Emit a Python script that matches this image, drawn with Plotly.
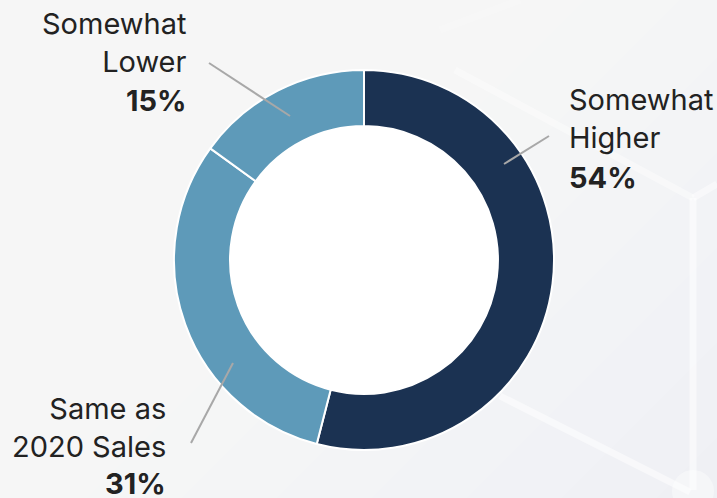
import plotly.graph_objects as go

W, H = 717, 498

categories = ["Somewhat Higher", "Same as 2020 Sales", "Somewhat Lower"]
values = [54, 31, 15]
label_text = ["Somewhat<br>Higher", "Same as<br>2020 Sales", "Somewhat<br>Lower"]
colors = ["#1b3252", "#5e9ab9", "#5e9ab9"]

def px(x):
    return x / W

def py(y):
    return 1 - y / H

cx, cy, R = 364, 260, 190

fig = go.Figure()
fig.add_trace(go.Pie(
    labels=categories,
    values=values,
    hole=0.705,
    sort=False,
    direction="clockwise",
    rotation=0,
    textinfo="none",
    hoverinfo="label+percent",
    marker=dict(colors=colors, line=dict(color="white", width=2)),
    showlegend=False,
    domain=dict(x=[px(cx - R), px(cx + R)], y=[py(cy + R), py(cy - R)]),
))

shapes = []
# diagonal background gradient (lighter towards top-left)
N = 12
for i in range(N):
    d = 1250 - i * 95
    path = f"M {px(0)} {py(0)} L {px(d)} {py(0)} L {px(0)} {py(d)} Z"
    shapes.append(dict(type="path", xref="paper", yref="paper", layer="below",
                       path=path, fillcolor="rgba(255,255,255,0.095)",
                       line=dict(width=0)))
# background hexagon lines
hex_lines = [
    ((455, 70), (693, 198), 0.4),
    ((693, 198), (717, 184), 0.45),
    ((693, 198), (693, 490), 0.5),
    ((500, 396), (690, 492), 0.5),
    ((440, 30), (520, 0), 0.2),
]
for (x0, y0), (x1, y1), op in hex_lines:
    shapes.append(dict(type="line", xref="paper", yref="paper", layer="below",
                       x0=px(x0), y0=py(y0), x1=px(x1), y1=py(y1),
                       line=dict(color=f"rgba(255,255,255,{op})", width=7)))
shapes.append(dict(type="circle", xref="paper", yref="paper", layer="below",
                   x0=px(672), y0=py(512), x1=px(714), y1=py(470),
                   fillcolor="rgba(255,255,255,0.4)", line=dict(width=0)))
# white hole
ri = 135
shapes.append(dict(type="circle", xref="paper", yref="paper", layer="below",
                   x0=px(cx - ri), y0=py(cy + ri), x1=px(cx + ri), y1=py(cy - ri),
                   fillcolor="white", line=dict(width=0)))

# leader lines
leaders = [
    ((549, 136), (504, 164)),
    ((191, 443), (233, 363)),
    ((209, 63), (290, 116)),
]
for (x0, y0), (x1, y1) in leaders:
    shapes.append(dict(type="line", xref="paper", yref="paper",
                       x0=px(x0), y0=py(y0), x1=px(x1), y1=py(y1),
                       line=dict(color="#a8a8a8", width=2)))

# label placements: (x, anchor, label center y, pct center y)
placements = [
    (567, "left", 118, 177),
    (168, "right", 427, 483),
    (189, "right", 43, 100),
]
font = dict(family="Inter", size=29, color="#222222")
total = sum(values)
annotations = []
for lab, val, (x, anc, ly, pyy) in zip(label_text, values, placements):
    annotations.append(dict(xref="paper", yref="paper", x=px(x), y=py(ly),
                            xanchor=anc, yanchor="middle", align=anc,
                            text=lab, showarrow=False, font=font))
    annotations.append(dict(xref="paper", yref="paper", x=px(x), y=py(pyy),
                            xanchor=anc, yanchor="middle", align=anc,
                            text=f"<b>{round(val / total * 100)}%</b>",
                            showarrow=False, font=font))

fig.update_layout(
    width=W, height=H,
    margin=dict(l=0, r=0, t=0, b=0),
    paper_bgcolor="#eeeff3",
    plot_bgcolor="#eeeff3",
    shapes=shapes,
    annotations=annotations,
)

fig.write_html("out.html")
